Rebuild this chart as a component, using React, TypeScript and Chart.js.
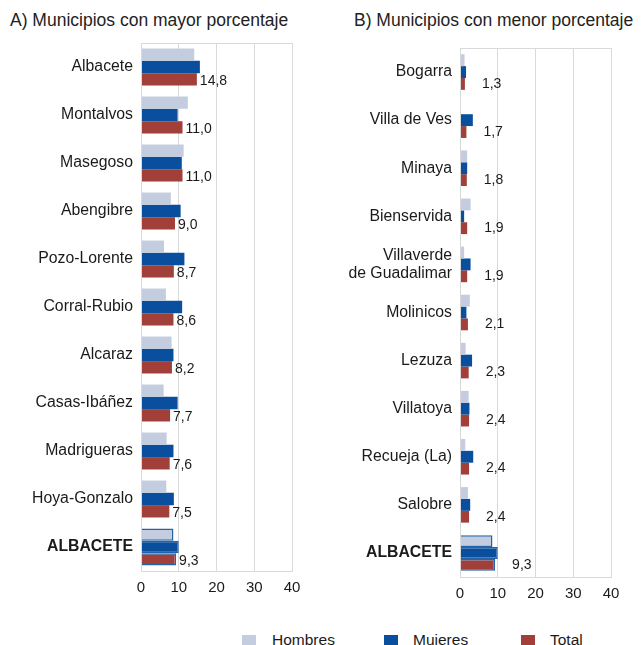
import React, { useEffect, useRef } from "react";
import { Chart, registerables } from "chart.js";

Chart.register(...registerables);

const titleA = "A) Municipios con mayor porcentaje";
const titleB = "B) Municipios con menor porcentaje";

const categoriesA = ["Albacete", "Montalvos", "Masegoso", "Abengibre", "Pozo-Lorente", "Corral-Rubio", "Alcaraz", "Casas-Ibáñez", "Madrigueras", "Hoya-Gonzalo", "ALBACETE"];
const hombresA = [14.1, 12.4, 11.3, 7.9, 6.1, 6.6, 8.1, 6.0, 6.8, 6.7, 8.6];
const mujeresA = [15.6, 9.7, 10.8, 10.5, 11.5, 10.9, 8.6, 9.7, 8.6, 8.7, 10.0];
const totalA = [14.8, 11.0, 11.0, 9.0, 8.7, 8.6, 8.2, 7.7, 7.6, 7.5, 9.3];

const categoriesB: (string | string[])[] = ["Bogarra", "Villa de Ves", "Minaya", "Bienservida", ["Villaverde", "de Guadalimar"], "Molinicos", "Lezuza", "Villatoya", "Recueja (La)", "Salobre", "ALBACETE"];
const hombresB = [1.2, 0.1, 1.9, 2.8, 1.1, 2.6, 1.5, 2.3, 1.4, 2.1, 8.6];
const mujeresB = [1.6, 3.4, 1.9, 1.1, 2.8, 1.7, 3.2, 2.5, 3.5, 2.7, 10.0];
const totalB = [1.3, 1.7, 1.8, 1.9, 1.9, 2.1, 2.3, 2.4, 2.4, 2.4, 9.3];

const seriesNames = ["Hombres", "Muieres", "Total"];
const xTicks = [0, 10, 20, 30, 40];

const COLORS = ["#c4cde0", "#0a4f9d", "#a33f39"];
const HIGHLIGHT_BORDER = "#2563a9";
const FONT = "'Liberation Sans', Arial, sans-serif";
const GRID = "#d9d9d9";

type PanelProps = {
  categories: (string | string[])[];
  hombres: number[];
  mujeres: number[];
  total: number[];
  axisWidth: number;
  padTop: number;
  padRight: number;
  xAxisHeight: number;
  catPct: number;
  labelDx: number;
  labelDy: number;
  width: number;
  height: number;
};

function Panel(p: PanelProps) {
  const ref = useRef<HTMLCanvasElement | null>(null);
  useEffect(() => {
    if (!ref.current) return;
    const last = p.categories.length - 1;
    const mk = (label: string, data: number[], i: number) => ({
      label,
      data,
      backgroundColor: COLORS[i],
      borderColor: HIGHLIGHT_BORDER,
      borderWidth: (ctx: any) => (ctx.dataIndex === last ? 1.5 : 0),
      categoryPercentage: p.catPct,
      barPercentage: 1,
    });
    const framePlugin = {
      id: "frame",
      afterDraw(chart: any) {
        const { ctx, chartArea: a } = chart;
        ctx.save();
        ctx.strokeStyle = GRID;
        ctx.lineWidth = 1;
        ctx.strokeRect(Math.round(a.left) + 0.5, Math.round(a.top) + 0.5, Math.round(a.right - a.left), Math.round(a.bottom - a.top));
        ctx.restore();
      },
    };
    const labelPlugin = {
      id: "totLabels",
      afterDatasetsDraw(chart: any) {
        const { ctx } = chart;
        const meta = chart.getDatasetMeta(2);
        const data = chart.data.datasets[2].data as number[];
        ctx.save();
        ctx.font = `14px ${FONT}`;
        ctx.fillStyle = "#1a1a1a";
        ctx.textAlign = "left";
        ctx.textBaseline = "middle";
        meta.data.forEach((el: any, i: number) => {
          const txt = data[i].toFixed(1).replace(".", ",");
          ctx.fillText(txt, el.x + p.labelDx, el.y + p.labelDy);
        });
        ctx.restore();
      },
    };
    const chart = new Chart(ref.current, {
      type: "bar",
      data: {
        labels: p.categories as any,
        datasets: [mk(seriesNames[0], p.hombres, 0), mk(seriesNames[1], p.mujeres, 1), mk(seriesNames[2], p.total, 2)],
      },
      options: {
        indexAxis: "y",
        animation: false,
        responsive: false,
        maintainAspectRatio: false,
        layout: { padding: { top: p.padTop, right: p.padRight, left: 0, bottom: 0 } },
        plugins: { legend: { display: false }, tooltip: { enabled: false }, title: { display: false } },
        scales: {
          x: {
            min: xTicks[0],
            max: xTicks[xTicks.length - 1],
            afterBuildTicks: (s: any) => {
              s.ticks = xTicks.map((v) => ({ value: v }));
            },
            afterFit: (s: any) => {
              s.height = p.xAxisHeight;
            },
            grid: { color: GRID, lineWidth: 1, drawTicks: false },
            border: { display: false },
            ticks: { color: "#1a1a1a", font: { family: FONT, size: 15 }, padding: 8, maxRotation: 0 },
          },
          y: {
            afterFit: (s: any) => {
              s.width = p.axisWidth;
            },
            grid: { display: false, drawTicks: false },
            border: { display: false },
            ticks: {
              color: "#1a1a1a",
              padding: 8,
              font: (ctx: any) => ({ family: FONT, size: 15.8, lineHeight: 1.15, weight: ctx.index === last ? "bold" : "normal" }),
            },
          },
        },
      } as any,
      plugins: [framePlugin, labelPlugin],
    });
    return () => chart.destroy();
  }, []);
  return <canvas ref={ref} width={p.width} height={p.height} style={{ width: p.width, height: p.height, display: "block" }} />;
}

const titleStyle: React.CSSProperties = {
  position: "absolute",
  top: 10,
  fontFamily: FONT,
  fontSize: 17.5,
  lineHeight: "20px",
  color: "#222",
  whiteSpace: "nowrap",
};

const legendText: React.CSSProperties = {
  position: "absolute",
  top: 632,
  fontFamily: FONT,
  fontSize: 15.5,
  lineHeight: "16px",
  color: "#1a1a1a",
  whiteSpace: "nowrap",
};

const legendPos = [
  { box: 242, text: 272 },
  { box: 384, text: 413 },
  { box: 521, text: 550 },
];

export default function App() {
  return (
    <div style={{ position: "fixed", left: 0, top: 0, width: 644, height: 645, overflow: "hidden", background: "#fff" }}>
      <div style={{ ...titleStyle, left: 10 }}>{titleA}</div>
      <div style={{ ...titleStyle, left: 354 }}>{titleB}</div>
      <div style={{ position: "absolute", left: 0, top: 0 }}>
        <Panel categories={categoriesA} hombres={hombresA} mujeres={mujeresA} total={totalA} axisWidth={141} padTop={43} padRight={28} xAxisHeight={39} catPct={0.77} labelDx={3} labelDy={2} width={320} height={610} />
      </div>
      <div style={{ position: "absolute", left: 320, top: 0 }}>
        <Panel categories={categoriesB} hombres={hombresB} mujeres={mujeresB} total={totalB} axisWidth={140} padTop={48} padRight={33} xAxisHeight={33} catPct={0.74} labelDx={17} labelDy={0} width={324} height={610} />
      </div>
      {seriesNames.map((n, i) => (
        <React.Fragment key={n}>
          <div style={{ position: "absolute", left: legendPos[i].box, top: 635, width: 14, height: 14, background: COLORS[i] }} />
          <div style={{ ...legendText, left: legendPos[i].text }}>{n}</div>
        </React.Fragment>
      ))}
    </div>
  );
}
